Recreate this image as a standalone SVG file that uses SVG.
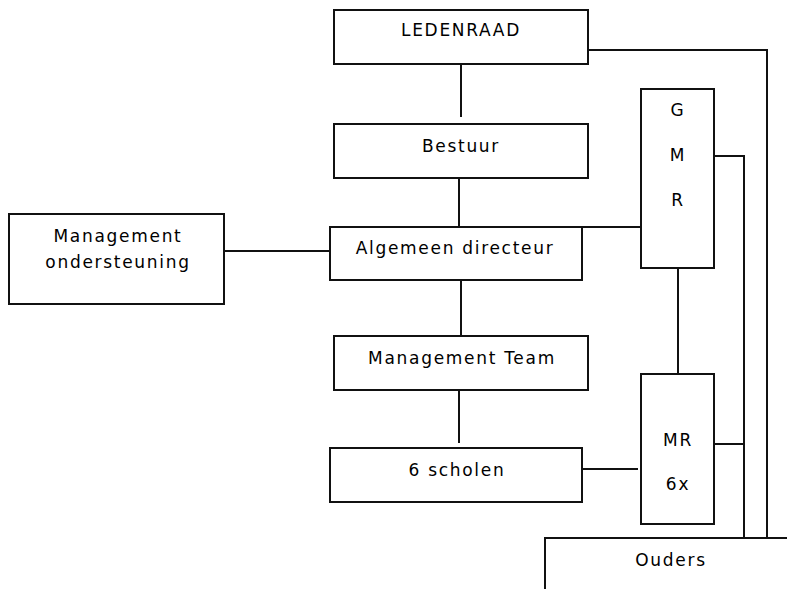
<svg xmlns="http://www.w3.org/2000/svg" width="787" height="589" viewBox="0 0 787 589">
<style>
.box{fill:#fff;stroke:#111;stroke-width:2}
.ln{fill:none;stroke:#111;stroke-width:2}
text{font-family:"DejaVu Sans","Liberation Sans",sans-serif;font-size:17px;letter-spacing:1.7px;fill:#000;text-anchor:middle}
</style>
<rect width="787" height="589" fill="#fff"/>
<g id="connectors">
<path class="ln" d="M461,64 V117"/>
<path class="ln" d="M459,178 V227"/>
<path class="ln" d="M582,227 H641"/>
<path class="ln" d="M224,251 H330"/>
<path class="ln" d="M461,280 V336"/>
<path class="ln" d="M459,390 V443"/>
<path class="ln" d="M582,469 H638"/>
<path class="ln" d="M678,268 V374"/>
<path class="ln" d="M588,50 H767 V538"/>
<path class="ln" d="M714,156 H744 V538"/>
<path class="ln" d="M714,444 H744"/>
</g>
<g id="ledenraad"><rect class="box" x="334" y="10" width="254" height="54"/><text x="461" y="36">LEDENRAAD</text></g>
<g id="bestuur"><rect class="box" x="334" y="124" width="254" height="54"/><text x="461" y="152">Bestuur</text></g>
<g id="algemeen-directeur"><rect class="box" x="330" y="227" width="252" height="53"/><text x="455" y="254">Algemeen directeur</text></g>
<g id="management-ondersteuning"><rect class="box" x="9" y="214" width="215" height="90"/><text x="118" y="242">Management</text><text x="118" y="268">ondersteuning</text></g>
<g id="management-team"><rect class="box" x="334" y="336" width="254" height="54"/><text x="462" y="364">Management Team</text></g>
<g id="scholen"><rect class="box" x="330" y="448" width="252" height="54"/><text x="457" y="476">6 scholen</text></g>
<g id="gmr"><rect class="box" x="641" y="89" width="73" height="179"/><text x="678" y="116">G</text><text x="678" y="161">M</text><text x="678" y="206">R</text></g>
<g id="mr"><rect class="box" x="641" y="374" width="73" height="150"/><text x="678" y="446">MR</text><text x="678" y="490">6x</text></g>
<g id="ouders"><rect class="box" x="545" y="538" width="260" height="70"/><text x="671" y="566">Ouders</text></g>
</svg>
